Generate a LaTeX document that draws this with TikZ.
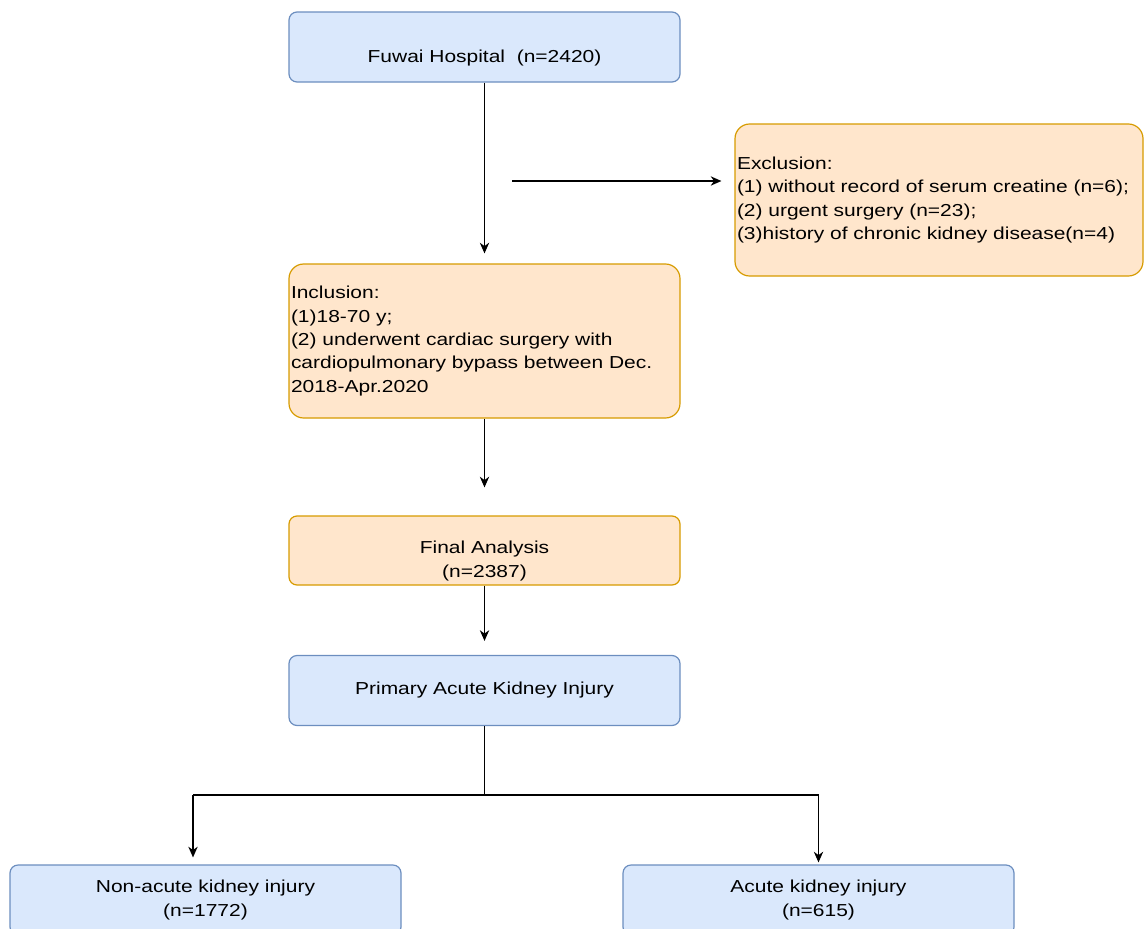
\documentclass[tikz,border=0pt]{standalone}
\usepackage{fontspec}
\setmainfont{Liberation Sans}[FakeStretch=1.21]
\usetikzlibrary{arrows.meta}
\definecolor{bluefill}{HTML}{DAE8FC}
\definecolor{bluedraw}{HTML}{6C8EBF}
\definecolor{orangefill}{HTML}{FFE6CC}
\definecolor{orangedraw}{HTML}{D79B00}

\begin{document}
\begin{tikzpicture}[x=0.75pt,y=-0.75pt,>={Stealth[length=8pt,width=7pt,inset=2.5pt]},line width=1pt,font=\fontsize{13}{17.5}\selectfont]
  \tikzstyle{box}=[rounded corners=6pt,minimum width=293.25pt,minimum height=52.5pt,inner sep=1.5pt,line width=0.9pt]
  \tikzstyle{bluebox}=[box,draw=bluedraw,fill=bluefill]
  \tikzstyle{orangebox}=[box,draw=orangedraw,fill=orangefill,rounded corners=11pt]
  \tikzstyle{txt}=[inner sep=0pt,align=center]
  \useasboundingbox (0,0) rectangle (1145,928);
  \node[bluebox]   (fuwai)     at (484.5,47)  {};
  \node[txt]       (fuwaitext) at ([yshift=-8.25pt]fuwai.center) {Fuwai Hospital\ \ (n=2420)};
  \node[orangebox,minimum width=306pt,minimum height=114pt,text width=303pt,align=left] (excl) at (939,200)
       {Exclusion:\\(1) without record of serum creatine (n=6);\\(2) urgent surgery (n=23);\\(3)history of chronic kidney disease(n=4)};
  \node[orangebox,minimum height=115.5pt,text width=290.25pt,align=left] (incl) at (484.5,341)
       {Inclusion:\\(1)18-70 y;\\(2) underwent cardiac surgery with\\cardiopulmonary bypass between Dec.\\2018-Apr.2020};
  \node[orangebox,rounded corners=6pt,minimum height=51.75pt] (final) at (484.5,550.5) {};
  \node[txt]       (finaltext) at ([yshift=-7.9pt]final.center) {Final Analysis\\(n=2387)};
  \node[bluebox]   (primary)   at (484.5,690.5) {Primary Acute Kidney Injury};
  \node[bluebox,align=center] (nonaki) at (205.5,900) {Non-acute kidney injury\\(n=1772)};
  \node[bluebox,align=center] (aki)    at (818.5,900) {Acute kidney injury\\(n=615)};
  \coordinate (exstart)  at (512,181);
  \coordinate (split)    at (484.5,795);
  \coordinate (leftdrop) at (193,795);
  \draw[->,shorten >=7.5pt]  (fuwai) -- (incl);
  \draw[->,shorten >=21pt]   (incl) -- (final);
  \draw[->,shorten >=10.5pt] (final) -- (primary);
  \draw[->,shorten >=9.75pt] (exstart) -- (exstart -| excl.west);
  \draw (primary) -- (split) -- (leftdrop);
  \draw[->,shorten >=5.25pt] (leftdrop) -- (leftdrop |- nonaki.north);
  \draw[->,shorten >=1.5pt]  (split) -| (aki);
\end{tikzpicture}
\end{document}
